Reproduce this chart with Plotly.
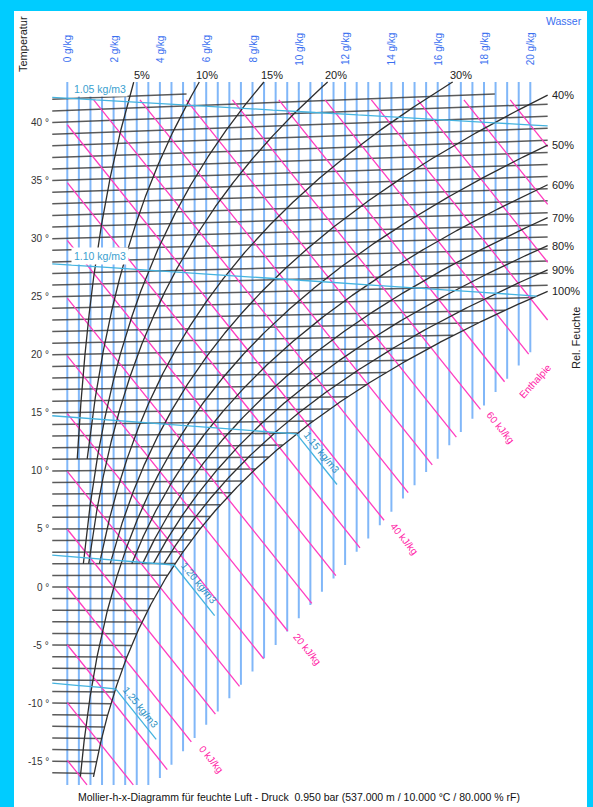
import numpy as np
import plotly.graph_objects as go

# ---- chart definition -------------------------------------------------------
P_HPA = 950.0                                   # total pressure, hPa
RH_LEVELS = [5, 10, 15, 20, 30, 40, 50, 60, 70, 80, 90, 100]      # %
RH_T_START = [11, 11, 2, 2, 2, 2, -16.3, 2, 2, 2, 2, -16.3]       # lowest drawn temperature
RH_TOP_LABELLED = [5, 10, 15, 20, 30]
RH_SIDE_LABELLED = [40, 50, 60, 70, 80, 90, 100]
ISOTHERMS = list(range(-16, 43))                # °C, every degree
TEMP_TICKS = [40, 35, 30, 25, 20, 15, 10, 5, 0, -5, -10, -15]
WATER_TICKS = [0, 2, 4, 6, 8, 10, 12, 14, 16, 18, 20]             # g/kg
WATER_GRID_STEP = 0.5
ENTHALPY_LEVELS = list(range(-15, 95, 5))       # kJ/kg
ENTHALPY_LABELS = {0: "0 kJ/kg", 20: "20 kJ/kg", 40: "40 kJ/kg", 60: "60 kJ/kg"}
DENSITY_LEVELS = [1.05, 1.10, 1.15, 1.20, 1.25]  # kg/m3
CAPTION = ("Mollier-h-x-Diagramm für feuchte Luft - Druck  0.950 bar "
           "(537.000 m / 10.000 °C / 80.000 % rF)")

# diagram extents (x in g/kg, y in skewed °C)
X_LEFT, X_RIGHT = -0.65, 20.75
Y_TOP_CURVES, Y_TOP_ISO, Y_TOP_ENTH, Y_BOTTOM = 43.44, 42.4, 41.9, -17.03
FOG_EDGE = ((4.1, -16.2), (20.0, 20.2))         # lower end of the water-content grid
FOG_RUN = 1.75                                  # g/kg of density line drawn past saturation

# page geometry
W, H = 593, 807
X0_PX, PX_PER_G = 67.3, 23.15
Y0_PX, PX_PER_C = 587.0, 11.625

FONT = "Liberation Sans, Arial, sans-serif"
C_BLUE = "rgba(80,155,245,0.72)"
C_ISO = "rgba(55,55,55,0.82)"
C_RH = "#2e2e2e"
C_ENTH = "#ff3cc0"
C_DENS = "#45b3df"


def p_sat(t):
    return 6.112 * np.exp(17.62 * t / (243.12 + t))


def x_from_pv(pv):
    return 622.0 * pv / (P_HPA - pv)


def skew(t, x):
    return t * (1.0 + 1.86 * x / 1006.0)


def fog_floor(x):
    (xa, ya), (xb, yb) = FOG_EDGE
    return np.maximum(Y_BOTTOM, ya + (yb - ya) / (xb - xa) * (np.asarray(x) - xa))


def enth_line(h, x):
    return (h - 2.501 * x) / 1.006


def add_seg(store, xs, ys):
    store[0].extend(list(xs) + [None])
    store[1].extend(list(ys) + [None])


# ---- water-content grid ----------------------------------------------------
blue = ([], [])
for xv in np.arange(0, max(WATER_TICKS) + 1e-9, WATER_GRID_STEP):
    add_seg(blue, [xv, xv], [float(fog_floor(xv)), Y_TOP_CURVES])

# ---- isotherms ----------------------------------------------------------------
iso = ([], [])
for t in ISOTHERMS:
    xe = min(x_from_pv(p_sat(t)), X_RIGHT)
    if t > 0:
        xe = min(xe, (Y_TOP_ISO / t - 1.0) * 1006.0 / 1.86)
    if xe > X_LEFT:
        add_seg(iso, [X_LEFT, xe], [skew(t, X_LEFT), skew(t, xe)])

# ---- relative humidity curves --------------------------------------------------
rh = ([], [])
rh_ends = {}
for r, t0 in zip(RH_LEVELS, RH_T_START):
    t = np.arange(t0, 60, 0.05)
    x = x_from_pv(r / 100.0 * p_sat(t))
    y = skew(t, x)
    ok = (y <= Y_TOP_CURVES) & (x <= X_RIGHT)
    i = int(np.argmax(~ok))
    xs, ys = list(x[:i]), list(y[:i])
    x0, y0, x1, y1 = x[i - 1], y[i - 1], x[i], y[i]
    f = 1.0
    if y1 > Y_TOP_CURVES:
        f = min(f, (Y_TOP_CURVES - y0) / (y1 - y0))
    if x1 > X_RIGHT:
        f = min(f, (X_RIGHT - x0) / (x1 - x0))
    xs.append(x0 + f * (x1 - x0))
    ys.append(y0 + f * (y1 - y0))
    rh_ends[r] = (xs[-1], ys[-1])
    add_seg(rh, xs, ys)

# ---- enthalpy lines ------------------------------------------------------------
enth = ([], [])
enth_ends = {}
for h in ENTHALPY_LEVELS:
    xs0 = max(0.0, (h - 1.006 * Y_TOP_ENTH) / 2.501)
    if xs0 >= X_RIGHT:
        continue
    gx = np.linspace(xs0, X_RIGHT, 20001)
    valid = enth_line(h, gx) >= fog_floor(gx)
    if not valid.any():
        continue
    xe = gx[np.nonzero(valid)[0][-1]]
    enth_ends[h] = (xe, enth_line(h, xe))
    add_seg(enth, [xs0, xe], [enth_line(h, xs0), enth_line(h, xe)])

# ---- density lines ---------------------------------------------------------------
dens = ([], [])
dens_bends = {}
for rho in DENSITY_LEVELS:
    gx = np.linspace(X_LEFT, X_RIGHT, 4001)
    t = P_HPA * 100 * (1 + gx / 1000) / (287.05 * rho * (1 + 1.608 * gx / 1000)) - 273.15
    sat = x_from_pv(p_sat(t)) <= gx
    n = int(np.argmax(sat)) + 1 if sat.any() else len(gx)
    add_seg(dens, gx[:n], skew(t[:n], gx[:n]))
    if sat.any():
        xb, yb = gx[n - 1], skew(t[n - 1], gx[n - 1])
        if xb + FOG_RUN <= X_RIGHT:
            xe = xb + FOG_RUN
            ye = yb - 2.501 / 1.006 * FOG_RUN
            add_seg(dens, [xb, xe], [yb, ye])
            dens_bends[rho] = ((xb + xe) / 2, (yb + ye) / 2)

# ---- figure ------------------------------------------------------------------
fig = go.Figure()


def lines(store, color, width):
    fig.add_trace(go.Scatter(x=store[0], y=store[1], mode="lines",
                             line=dict(color=color, width=width),
                             hoverinfo="skip", showlegend=False))


lines(blue, C_BLUE, 2.0)
lines(iso, C_ISO, 1.5)
lines(enth, C_ENTH, 1.3)
lines(rh, C_RH, 1.3)
lines(dens, C_DENS, 1.3)

ann = []


def text(x, y, s, size=10, color="#222", **kw):
    d = dict(x=x, y=y, text=s, showarrow=False, xanchor="center", yanchor="middle",
             font=dict(family=FONT, size=size, color=color))
    d.update(kw)
    ann.append(d)


def px_x(px):
    return px / W


def px_y(py):
    return 1 - py / H


# temperature scale
for t in TEMP_TICKS:
    text(X_LEFT, skew(t, X_LEFT), f"{t} °", size=10, color="#333",
         xanchor="right", xshift=-1)

# water-content scale
for g in WATER_TICKS:
    text(g, px_y(49), f"{g} g/kg", size=10, color="#3a6ff0", yref="paper",
         textangle=-90)

# humidity labels
for r in RH_TOP_LABELLED:
    xe, ye = rh_ends[r]
    text(xe, ye, f"{r}%", size=11, color="#222", yanchor="bottom",
         xshift=8, yshift=-1)
for r in RH_SIDE_LABELLED:
    xe, ye = rh_ends[r]
    text(xe, ye, f"{r}%", size=11, color="#222", xanchor="left", xshift=2)

# enthalpy labels
for h, s in ENTHALPY_LABELS.items():
    xe, ye = enth_ends[h]
    text(xe, ye, s, size=10, color="#ff1aa6", textangle=51, xshift=20, yshift=-18)
xe, ye = enth_ends[70]
text(xe, ye, "Enthalpie", size=10, color="#ff1aa6", textangle=-48,
     xshift=6, yshift=-27)

# density labels
for rho, (xm, ym) in dens_bends.items():
    text(xm, ym, f"{rho:.2f} kg/m3", size=10, color="#2a8fc0", textangle=51,
         xshift=5, yshift=7)
text(px_x(100), px_y(89), "1.05 kg/m3", size=10.5, color="#3a9fd0",
     xref="paper", yref="paper", bgcolor="white", borderpad=1)
text(px_x(100), px_y(256), "1.10 kg/m3", size=10.5, color="#3a9fd0",
     xref="paper", yref="paper", bgcolor="white", borderpad=2)

# frame texts
text(px_x(23), px_y(44), "Temperatur", size=11, color="#222", xref="paper",
     yref="paper", textangle=-90)
text(px_x(564), px_y(21), "Wasser", size=10.5, color="#3a6ff0",
     xref="paper", yref="paper")
text(px_x(576), px_y(338), "Rel. Feuchte", size=11, color="#222",
     xref="paper", yref="paper", textangle=-90)
text(px_x(299), px_y(797), CAPTION, size=10.5, color="#111",
     xref="paper", yref="paper")

fig.update_layout(
    width=W, height=H,
    margin=dict(l=0, r=0, t=0, b=0),
    paper_bgcolor="#00CCFF",
    plot_bgcolor="rgba(0,0,0,0)",
    showlegend=False,
    xaxis=dict(range=[-X0_PX / PX_PER_G, (W - X0_PX) / PX_PER_G], visible=False,
               fixedrange=True),
    yaxis=dict(range=[(Y0_PX - H) / PX_PER_C, Y0_PX / PX_PER_C], visible=False,
               fixedrange=True),
    shapes=[dict(type="rect", xref="paper", yref="paper", layer="below",
                 x0=14 / W, x1=587 / W, y0=0, y1=1 - 11 / H,
                 fillcolor="white", line=dict(width=0))],
    annotations=ann,
)

fig.write_html("out.html")
